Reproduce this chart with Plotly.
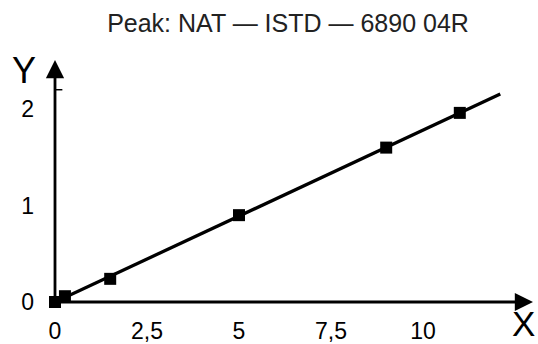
import plotly.graph_objects as go

# data
x_points = [0, 0.27, 1.5, 5.0, 9.0, 11.0]
y_points = [0.0, 0.06, 0.24, 0.90, 1.60, 1.96]
fit_x = [0, 12.1]
fit_y = [0, 2.155]
x_tickvals = [0, 2.5, 5, 7.5, 10]
x_ticktext = ["0", "2,5", "5", "7,5", "10"]
y_tickvals = [0, 1, 2]
y_ticktext = ["0", "1", "2"]
title_text = "Peak: NAT \u2014 ISTD \u2014 6890 04R"

FONT = "Liberation Sans, Arial, sans-serif"
XMAX = 13.125
YMAX = 2.508

fig = go.Figure()
fig.add_trace(go.Scatter(x=fit_x, y=fit_y, mode="lines",
                         line=dict(color="black", width=3.3), cliponaxis=False,
                         hoverinfo="skip"))
fig.add_trace(go.Scatter(x=x_points, y=y_points, mode="markers",
                         marker=dict(symbol="square", size=12, color="black",
                                     line=dict(width=0)),
                         cliponaxis=False))

# axis arrows
fig.add_annotation(x=12.99, y=0, ax=0, ay=0, xref="x", yref="y", axref="x", ayref="y",
                   showarrow=True, arrowhead=2, arrowsize=1.3, arrowwidth=2.8,
                   arrowcolor="black", text="")
fig.add_annotation(x=0, y=YMAX, ax=0, ay=0, xref="x", yref="y", axref="x", ayref="y",
                   showarrow=True, arrowhead=2, arrowsize=1.3, arrowwidth=2.8,
                   arrowcolor="black", text="")
# small tick near top of y axis
fig.add_shape(type="line", x0=0, x1=0.2, y0=2.2, y1=2.2, xref="x", yref="y",
              line=dict(color="black", width=1.5))

# axis letters (paper coords relative to plot area: x 55..538, y 60..302)
fig.add_annotation(x=(523 - 55) / 483, y=(302 - 344) / 242, xref="paper", yref="paper",
                   text="X", showarrow=False, borderpad=0,
                   font=dict(family=FONT, size=35, color="black"),
                   xanchor="center", yanchor="bottom")
fig.add_annotation(x=(24 - 55) / 483, y=(302 - 70) / 242, xref="paper", yref="paper",
                   text="Y", showarrow=False, font=dict(family=FONT, size=36, color="black"),
                   xanchor="center", yanchor="middle")

fig.update_layout(
    width=538, height=344,
    margin=dict(l=55, r=0, t=60, b=42),
    paper_bgcolor="white", plot_bgcolor="white",
    showlegend=False,
    title=dict(text=title_text, x=288 / 538, xanchor="center", y=1 - 23 / 344,
               yanchor="middle", yref="container",
               font=dict(family=FONT, size=25, color="#222222")),
    xaxis=dict(range=[0, XMAX], showgrid=False, zeroline=False, showline=False,
               tickvals=x_tickvals, ticktext=x_ticktext, ticks="",
               ticklabelstandoff=13, automargin=False,
               tickfont=dict(family=FONT, size=23, color="black")),
    yaxis=dict(range=[0, YMAX], showgrid=False, zeroline=False, showline=False,
               tickvals=y_tickvals, ticktext=y_ticktext, ticks="",
               ticklabelstandoff=20, automargin=False,
               tickfont=dict(family=FONT, size=23, color="black")),
)

fig.write_html("out.html")
